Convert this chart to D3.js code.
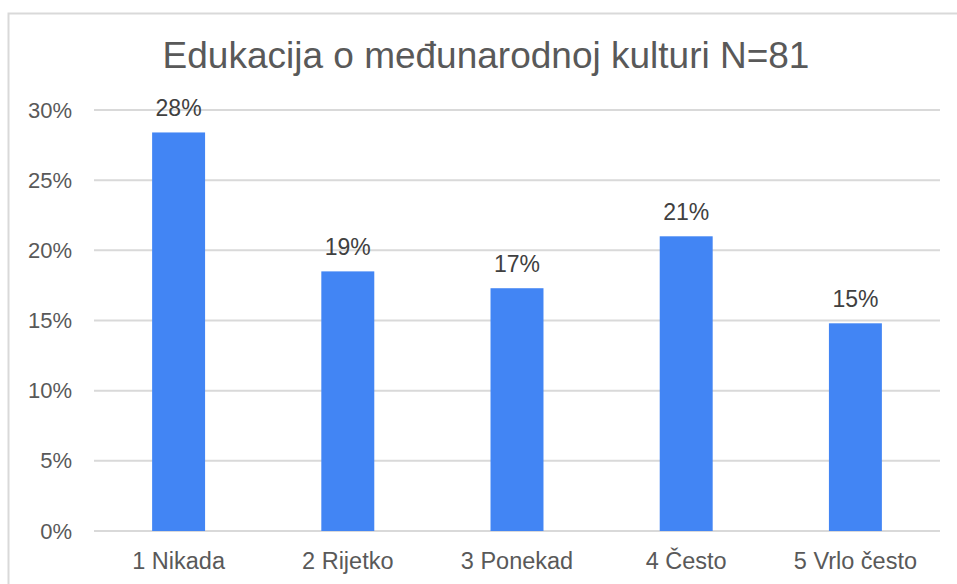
<!DOCTYPE html>
<html>
<head>
<meta charset="utf-8">
<script src="https://cdn.jsdelivr.net/npm/d3@7"></script>
<style>
  body { margin: 0; background: #fff; }
  text { font-family: "Liberation Sans", Arial, sans-serif; }
</style>
</head>
<body>
<div id="chart"></div>
<script>
// Data
var categories = ['1 Nikada', '2 Rijetko', '3 Ponekad', '4 Često', '5 Vrlo često'];
var shares = [0.284, 0.185, 0.173, 0.210, 0.148];
var yTicks = [0, 0.05, 0.10, 0.15, 0.20, 0.25, 0.30];
var chartTitle = 'Edukacija o međunarodnoj kulturi N=81';

var svgWidth = 957;
var svgHeight = 584;

var svg = d3.select('#chart')
    .append('svg')
    .attr('width', svgWidth)
    .attr('height', svgHeight);

// Chart border (runs off the right and bottom of the picture)
svg.append('rect')
    .attr('x', 8.5)
    .attr('y', 13.5)
    .attr('width', 1000)
    .attr('height', 1000)
    .attr('fill', 'none')
    .attr('stroke', '#d9d9d9')
    .attr('stroke-width', 2);

var margin = { top: 110, right: 17, bottom: 53, left: 94 };
var chartWidth = svgWidth - margin.left - margin.right;
var chartHeight = svgHeight - margin.top - margin.bottom;

var chartGroup = svg.append('g')
    .attr('transform', `translate(${margin.left}, ${margin.top})`);

// Scales
var xBandScale = d3.scaleBand()
    .domain(categories)
    .range([0, chartWidth])
    .padding(0);

var yLinearScale = d3.scaleLinear()
    .domain([0, 0.30])
    .range([chartHeight, 0]);

var barWidth = xBandScale.bandwidth() * 0.313;

// Gridlines
chartGroup.append('g')
    .selectAll('line')
    .data(yTicks)
    .enter()
    .append('line')
    .attr('x1', 0)
    .attr('x2', chartWidth)
    .attr('y1', (d) => yLinearScale(d))
    .attr('y2', (d) => yLinearScale(d))
    .attr('stroke', '#d9d9d9')
    .attr('stroke-width', 2);

// Y axis labels
var leftAxis = d3.axisLeft(yLinearScale)
    .tickValues(yTicks)
    .tickFormat(d3.format('.0%'))
    .tickSize(0)
    .tickPadding(22);

var yAxis = chartGroup.append('g').call(leftAxis);
yAxis.select('.domain').remove();
yAxis.selectAll('text')
    .attr('fill', '#595959')
    .style('font-size', '22px');

// X axis labels
var bottomAxis = d3.axisBottom(xBandScale)
    .tickSize(0)
    .tickPadding(21);

var xAxis = chartGroup.append('g')
    .attr('transform', `translate(0, ${chartHeight})`)
    .call(bottomAxis);
xAxis.select('.domain').remove();
xAxis.selectAll('text')
    .attr('fill', '#595959')
    .style('font-size', '23.5px');

// Bars
chartGroup.selectAll('rect.bar')
    .data(shares)
    .enter()
    .append('rect')
    .attr('class', 'bar')
    .attr('x', (d, i) => xBandScale(categories[i]) + xBandScale.bandwidth() / 2 - barWidth / 2)
    .attr('y', (d) => yLinearScale(d))
    .attr('width', barWidth)
    .attr('height', (d) => chartHeight - yLinearScale(d))
    .attr('fill', '#4285f4');

// Value labels
chartGroup.selectAll('text.value')
    .data(shares)
    .enter()
    .append('text')
    .attr('class', 'value')
    .attr('x', (d, i) => xBandScale(categories[i]) + xBandScale.bandwidth() / 2)
    .attr('y', (d) => yLinearScale(d) - 16)
    .attr('text-anchor', 'middle')
    .attr('fill', '#404040')
    .style('font-size', '23px')
    .text((d) => d3.format('.0%')(d));

// Title
svg.append('text')
    .attr('x', 486)
    .attr('y', 68)
    .attr('text-anchor', 'middle')
    .attr('fill', '#595959')
    .style('font-size', '37px')
    .text(chartTitle);
</script>
</body>
</html>
